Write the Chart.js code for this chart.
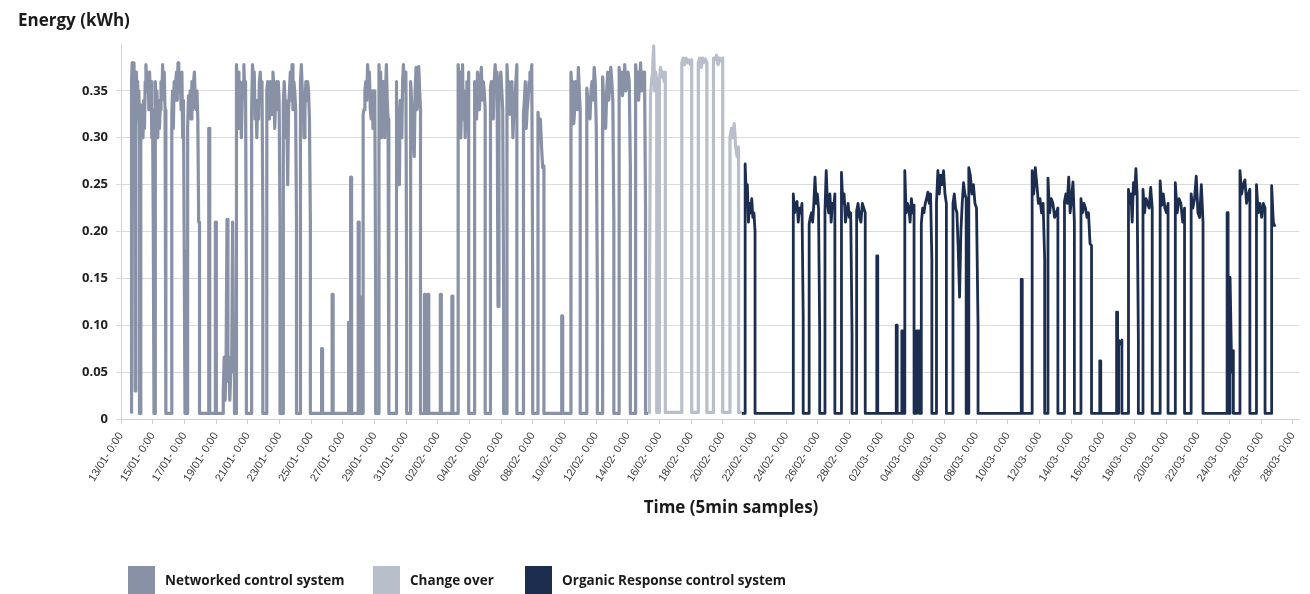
<!DOCTYPE html>
<html>
<head>
<meta charset="utf-8">
<script src="https://cdn.jsdelivr.net/npm/chart.js@4.4.1/dist/chart.umd.min.js"></script>
<style>
  html, body { margin: 0; padding: 0; background: #fff; }
  #wrap { position: relative; width: 1310px; height: 594px; overflow: hidden;
          font-family: 'Open Sans', 'Noto Sans', sans-serif; color: #1a1a1a; }
  canvas { position: absolute; left: 0; top: 0; }
  .ttl { position: absolute; font-weight: 700; white-space: nowrap; line-height: 1.3; }
  #ytitle { left: 18px; top: 9px; font-size: 17px; }
  #xtitle { left: 731px; top: 496px; font-size: 17px; transform: translateX(-50%); }
  .item { position: absolute; top: 566px; height: 28px; display: flex; align-items: center; }
  .box { width: 27px; height: 28px; margin-right: 10px; }
  .lbl { font-size: 13.5px; font-weight: 700; white-space: nowrap; }
</style>
</head>
<body>
<div id="wrap">
  <canvas id="c" width="1310" height="594"></canvas>
  <div id="ytitle" class="ttl">Energy (kWh)</div>
  <div id="xtitle" class="ttl">Time (5min samples)</div>
  <div id="legend"></div>
</div>
<script>
// Time is counted in hours from 13/01 0:00; one tick every 48 h.
const tickLabels = [
  '13/01- 0:00', '15/01- 0:00', '17/01- 0:00', '19/01- 0:00', '21/01- 0:00', '23/01- 0:00',
  '25/01- 0:00', '27/01- 0:00', '29/01- 0:00', '31/01- 0:00', '02/02- 0:00', '04/02- 0:00',
  '06/02- 0:00', '08/02- 0:00', '10/02- 0:00', '12/02- 0:00', '14/02- 0:00', '16/02- 0:00',
  '18/02- 0:00', '20/02- 0:00', '22/02- 0:00', '24/02- 0:00', '26/02- 0:00', '28/02- 0:00',
  '02/03- 0:00', '04/03- 0:00', '06/03- 0:00', '08/03- 0:00', '10/03- 0:00', '12/03- 0:00',
  '14/03- 0:00', '16/03- 0:00', '18/03- 0:00', '20/03- 0:00', '22/03- 0:00', '24/03- 0:00',
  '26/03- 0:00', '28/03- 0:00'
];

const seriesNames = ['Networked control system', 'Change over', 'Organic Response control system'];

// Standby draw between lit periods (kWh per 5 min sample)
const standbyKWh = [0.006, 0.007, 0.006];

// Lit periods: [start hour, end hour, readings spread across the period]
const networkedRuns = [
  [16, 28, [0.36, 0.38, 0.37, 0.34, 0.38, 0.33, 0.03, 0.30, 0.37, 0.33, 0.36, 0.32, 0.35, 0.31]],
  [30, 50, [0.335, 0.30, 0.32, 0.30, 0.34, 0.31, 0.36, 0.378, 0.35, 0.37, 0.36, 0.33, 0.37, 0.34, 0.36, 0.30, 0.33, 0.21, 0.21]],
  [52, 68, [0.36, 0.33, 0.35, 0.30, 0.34, 0.31, 0.33, 0.36, 0.34, 0.378, 0.35, 0.37, 0.33, 0.17]],
  [77, 97, [0.325, 0.35, 0.31, 0.36, 0.34, 0.36, 0.37, 0.34, 0.38, 0.35, 0.37, 0.36, 0.33, 0.37, 0.30, 0.34, 0.18, 0.18]],
  [101, 119, [0.31, 0.345, 0.33, 0.35, 0.32, 0.36, 0.33, 0.36, 0.37, 0.34, 0.33, 0.35, 0.32, 0.21, 0.21]],
  [133, 134.5, [0.31]],
  [143, 144.5, [0.21]],
  [155, 172, [0.03, 0.066, 0.02, 0.06, 0.213, 0.04, 0.066, 0.02, 0.05, 0.06, 0.21, 0.05, 0.066]],
  [175, 190, [0.378, 0.35, 0.37, 0.31, 0.36, 0.33, 0.30, 0.34, 0.36, 0.378, 0.35, 0.36, 0.15]],
  [198, 215, [0.33, 0.378, 0.36, 0.37, 0.32, 0.34, 0.30, 0.34, 0.32, 0.36, 0.37, 0.34, 0.36, 0.21]],
  [221, 241, [0.35, 0.36, 0.33, 0.32, 0.36, 0.34, 0.325, 0.37, 0.35, 0.31, 0.34, 0.36, 0.33, 0.36, 0.34, 0.21]],
  [246, 266, [0.335, 0.36, 0.34, 0.30, 0.32, 0.25, 0.33, 0.35, 0.37, 0.34, 0.378, 0.33, 0.36, 0.35, 0.33, 0.21]],
  [272, 287, [0.36, 0.378, 0.35, 0.34, 0.30, 0.33, 0.36, 0.34, 0.36, 0.35, 0.32, 0.21]],
  [304, 305.5, [0.075]],
  [320, 321.5, [0.133]],
  [345, 346.5, [0.103]],
  [348, 349.5, [0.258]],
  [359.5, 361, [0.21]],
  [362.5, 364, [0.13]],
  [367, 386, [0.325, 0.33, 0.35, 0.36, 0.34, 0.378, 0.36, 0.37, 0.33, 0.32, 0.35, 0.31, 0.34, 0.35, 0.13]],
  [391, 406, [0.378, 0.35, 0.37, 0.30, 0.34, 0.36, 0.33, 0.30, 0.35, 0.378, 0.34, 0.32, 0.31]],
  [417, 433, [0.36, 0.34, 0.31, 0.28, 0.25, 0.34, 0.31, 0.30, 0.36, 0.378, 0.35, 0.36, 0.37, 0.13]],
  [439, 454, [0.36, 0.34, 0.32, 0.30, 0.28, 0.35, 0.375, 0.33, 0.34, 0.376, 0.35, 0.33]],
  [460, 461.5, [0.133]],
  [465, 466.5, [0.133]],
  [484, 485.5, [0.133]],
  [501.5, 503, [0.131]],
  [511, 527, [0.378, 0.36, 0.37, 0.30, 0.34, 0.378, 0.32, 0.35, 0.30, 0.33, 0.36, 0.34, 0.37]],
  [536, 552, [0.36, 0.34, 0.32, 0.37, 0.35, 0.33, 0.36, 0.375, 0.34, 0.36, 0.35, 0.33]],
  [560, 580, [0.353, 0.36, 0.34, 0.32, 0.36, 0.378, 0.35, 0.37, 0.12, 0.34, 0.36, 0.37, 0.35, 0.33, 0.12]],
  [585, 600, [0.378, 0.35, 0.36, 0.325, 0.34, 0.36, 0.30, 0.33, 0.34, 0.36, 0.378]],
  [610, 624, [0.325, 0.34, 0.36, 0.31, 0.33, 0.34, 0.36, 0.37, 0.35, 0.378, 0.14]],
  [632, 641, [0.327, 0.31, 0.32, 0.29, 0.268, 0.27]],
  [668, 669.5, [0.11]],
  [682, 696, [0.37, 0.35, 0.36, 0.315, 0.33, 0.36, 0.34, 0.33, 0.375, 0.35, 0.33]],
  [706, 722, [0.353, 0.34, 0.33, 0.32, 0.35, 0.36, 0.34, 0.375, 0.36, 0.31, 0.133]],
  [730, 747, [0.365, 0.34, 0.33, 0.31, 0.35, 0.37, 0.34, 0.36, 0.375, 0.36, 0.34, 0.21]],
  [755, 772, [0.375, 0.36, 0.37, 0.345, 0.36, 0.378, 0.35, 0.36, 0.37, 0.36, 0.27]],
  [780, 795, [0.378, 0.36, 0.37, 0.34, 0.36, 0.38, 0.35, 0.37, 0.36, 0.37, 0.225]]
];

const changeOverRuns = [
  [801, 812, [0.14, 0.345, 0.36, 0.37, 0.398, 0.35, 0.37, 0.36]],
  [816, 825, [0.36, 0.375, 0.365, 0.37, 0.36, 0.37]],
  [850, 865, [0.38, 0.385, 0.378, 0.385, 0.38, 0.383, 0.378, 0.383]],
  [875, 888, [0.38, 0.385, 0.375, 0.385, 0.38, 0.384, 0.38]],
  [898, 912, [0.385, 0.383, 0.388, 0.378, 0.385, 0.382, 0.385]],
  [923, 936, [0.30, 0.31, 0.30, 0.315, 0.29, 0.28, 0.29]]
];

const organicRuns = [
  [946, 961, [0.272, 0.24, 0.25, 0.21, 0.23, 0.22, 0.235, 0.215, 0.22, 0.20]],
  [1019, 1034, [0.24, 0.22, 0.23, 0.232, 0.21, 0.225, 0.22, 0.23, 0.108]],
  [1043, 1059, [0.208, 0.215, 0.22, 0.21, 0.23, 0.258, 0.23, 0.24, 0.225, 0.09]],
  [1067, 1082, [0.222, 0.265, 0.23, 0.22, 0.24, 0.21, 0.23, 0.225, 0.24]],
  [1092, 1108, [0.263, 0.23, 0.24, 0.21, 0.22, 0.23, 0.215, 0.22, 0.09]],
  [1115, 1128, [0.222, 0.23, 0.215, 0.21, 0.23, 0.225, 0.22]],
  [1145.5, 1147, [0.174]],
  [1175, 1176.5, [0.10]],
  [1183.5, 1186, [0.094]],
  [1188, 1202, [0.265, 0.22, 0.23, 0.225, 0.21, 0.235, 0.22, 0.228]],
  [1206, 1210, [0.094]],
  [1213, 1229, [0.208, 0.225, 0.22, 0.23, 0.235, 0.242, 0.23, 0.24, 0.17]],
  [1236, 1251, [0.23, 0.265, 0.24, 0.26, 0.25, 0.265, 0.24, 0.23]],
  [1261, 1281, [0.23, 0.24, 0.225, 0.22, 0.18, 0.13, 0.20, 0.23, 0.252, 0.24, 0.235]],
  [1285, 1299, [0.268, 0.26, 0.24, 0.25, 0.23, 0.225, 0.10]],
  [1364.5, 1366, [0.149]],
  [1381, 1400, [0.265, 0.24, 0.268, 0.25, 0.23, 0.235, 0.22, 0.23, 0.17]],
  [1405, 1420, [0.257, 0.22, 0.235, 0.23, 0.215, 0.22, 0.225]],
  [1430, 1445, [0.232, 0.24, 0.23, 0.258, 0.22, 0.235, 0.253, 0.21]],
  [1455, 1471, [0.235, 0.22, 0.23, 0.225, 0.215, 0.22, 0.187, 0.185]],
  [1483.5, 1485, [0.062]],
  [1509, 1510.5, [0.114]],
  [1512, 1517, [0.084, 0.08, 0.084]],
  [1527, 1542, [0.245, 0.23, 0.24, 0.21, 0.252, 0.24, 0.267, 0.24, 0.084]],
  [1549, 1563, [0.245, 0.22, 0.235, 0.23, 0.225, 0.247, 0.225]],
  [1575, 1587, [0.254, 0.228, 0.24, 0.225, 0.22, 0.23]],
  [1598, 1612, [0.252, 0.22, 0.235, 0.23, 0.21, 0.225]],
  [1622, 1640, [0.24, 0.225, 0.235, 0.259, 0.22, 0.215, 0.25, 0.21]],
  [1676.5, 1678, [0.22]],
  [1681, 1686, [0.151, 0.05, 0.073]],
  [1696, 1711, [0.265, 0.24, 0.25, 0.255, 0.23, 0.24, 0.245]],
  [1721, 1734, [0.25, 0.22, 0.23, 0.215, 0.23, 0.225]],
  [1744, 1749, [0.249, 0.21, 0.205]]
];

// Hours covered by each series: [first sample, last sample]
const seriesSpan = [[16, 799], [799, 941], [941, 1749]];

// Turn lit periods into a stepped trace that drops to standby in between.
function buildTrace(runs, span, standby) {
  const pts = [];
  runs.forEach(([t0, t1, vals]) => {
    if (pts.length === 0 && span[0] < t0) pts.push({ x: span[0], y: standby });
    pts.push({ x: t0, y: standby });
    const n = vals.length;
    if (n === 1) {
      pts.push({ x: t0, y: vals[0] }, { x: t1, y: vals[0] });
    } else {
      vals.forEach((v, k) => pts.push({ x: t0 + (t1 - t0) * k / (n - 1), y: v }));
    }
    if (t1 < span[1]) pts.push({ x: t1, y: standby });
  });
  const last = runs[runs.length - 1][1];
  if (last < span[1]) pts.push({ x: span[1], y: standby });
  return pts;
}

const seriesColors = ['#8991a7', '#b9becb', '#1c2d50'];
const seriesWidths = [3.2, 3.2, 2.8];
const allRuns = [networkedRuns, changeOverRuns, organicRuns];

const datasets = allRuns.map((runs, i) => ({
  label: seriesNames[i],
  data: buildTrace(runs, seriesSpan[i], standbyKWh[i]),
  borderColor: seriesColors[i],
  backgroundColor: seriesColors[i],
  borderWidth: seriesWidths[i],
  pointRadius: 0,
  tension: 0,
  borderJoinStyle: 'round',
  fill: false
}));

new Chart(document.getElementById('c'), {
  type: 'line',
  data: { datasets },
  options: {
    responsive: false,
    animation: false,
    devicePixelRatio: 1,
    parsing: false,
    layout: { padding: { top: 44, right: 9, left: 0, bottom: 0 } },
    plugins: { legend: { display: false }, title: { display: false }, tooltip: { enabled: false } },
    scales: {
      x: {
        type: 'linear',
        min: 0,
        max: 1786,
        afterBuildTicks: s => { s.ticks = tickLabels.map((_, i) => ({ value: i * 48 })); },
        afterFit: s => { s.height = 175; },
        ticks: {
          autoSkip: false, minRotation: 58, maxRotation: 58, padding: 6,
          color: '#3a3a3a', font: { family: 'Liberation Sans', size: 11 },
          callback: (v, i) => tickLabels[i]
        },
        grid: { drawOnChartArea: false, drawTicks: true, tickLength: 5, color: '#cfcfcf' },
        border: { display: true, color: '#cfcfcf' }
      },
      y: {
        min: 0,
        max: 0.4,
        afterBuildTicks: s => { s.ticks = s.ticks.filter(t => t.value < 0.399); },
        afterFit: s => { s.width = 121; },
        ticks: {
          stepSize: 0.05, padding: 8, color: '#222',
          font: { family: 'Open Sans', size: 13, weight: 'bold' },
          callback: v => (v === 0 ? '0' : v.toFixed(2))
        },
        grid: { color: '#dcdcdc', tickLength: 5 },
        border: { display: true, color: '#d0d0d0' }
      }
    }
  }
});

// Legend row under the axis title
const legendLeft = [128, 373, 525];
const legend = document.getElementById('legend');
seriesNames.forEach((name, i) => {
  const item = document.createElement('div');
  item.className = 'item';
  item.style.left = legendLeft[i] + 'px';
  const box = document.createElement('div');
  box.className = 'box';
  box.style.background = seriesColors[i];
  const lbl = document.createElement('span');
  lbl.className = 'lbl';
  lbl.textContent = name;
  item.appendChild(box);
  item.appendChild(lbl);
  legend.appendChild(item);
});
</script>
</body>
</html>
